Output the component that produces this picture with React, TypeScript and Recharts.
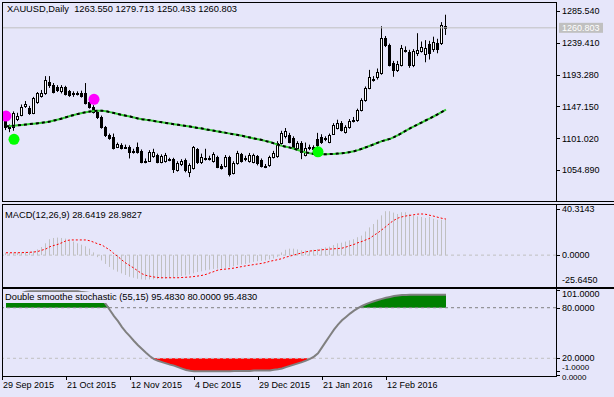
import React from 'react';
import {
  ComposedChart,
  Bar,
  Line,
  Area,
  Scatter,
  XAxis,
  YAxis,
  ReferenceLine,
} from 'recharts';

const BG = '#E6E6FA';
const FONT = '"Liberation Sans", Arial, sans-serif';

// daily candles, one per bar (bar 0 = 30 Sep 2015)
const openP = [
  1127.5, 1118, 1117, 1129, 1135, 1148, 1145, 1138, 1153, 1162,
  1166, 1182, 1178, 1175, 1169, 1175, 1169, 1167, 1165, 1167,
  1166, 1153, 1146, 1139, 1132, 1117, 1106, 1103, 1089, 1092,
  1089, 1088, 1083, 1088, 1083, 1069, 1069, 1075, 1077, 1067,
  1068, 1071, 1071, 1055, 1064, 1070, 1052, 1058, 1085, 1067,
  1073, 1072, 1068, 1074, 1061, 1061, 1074, 1051, 1065, 1078,
  1073, 1068, 1067, 1075, 1070, 1061, 1062, 1074, 1075, 1094,
  1104, 1106, 1101, 1087, 1094, 1077, 1087, 1088, 1100, 1103,
  1101, 1096, 1108, 1116, 1123, 1110, 1117, 1126, 1127, 1142,
  1156, 1174, 1186, 1190, 1195, 1246, 1236, 1210, 1200, 1207,
  1229, 1226, 1207, 1224, 1227, 1223, 1238, 1230, 1239, 1239, 1263.55,
];
const highP = [
  1130.4, 1121, 1140, 1138, 1150, 1155, 1148, 1161, 1168, 1171,
  1191, 1191, 1181, 1178, 1178, 1177, 1171, 1169, 1169, 1170,
  1181, 1155, 1149, 1141, 1134, 1119, 1108, 1108, 1095, 1094,
  1092, 1091, 1086, 1095, 1085, 1072, 1084, 1086, 1079, 1078,
  1080, 1073, 1073, 1068, 1071, 1072, 1065, 1090, 1087, 1079,
  1086, 1076, 1081, 1076, 1064, 1077, 1076, 1068, 1083, 1080,
  1076, 1080, 1079, 1077, 1072, 1064, 1076, 1083, 1097, 1112,
  1116, 1109, 1104, 1097, 1097, 1095, 1092, 1091, 1109, 1107,
  1104, 1108, 1123, 1128, 1126, 1120, 1129, 1132, 1144, 1159,
  1176, 1200, 1191, 1202, 1263, 1249, 1238, 1213, 1213, 1236,
  1234, 1229, 1230, 1253, 1241, 1243, 1242, 1248, 1245, 1269, 1279.713,
];
const lowP = [
  1113, 1110, 1112, 1126, 1133, 1145, 1135, 1136, 1151, 1160,
  1164, 1174, 1166, 1168, 1166, 1163, 1161, 1161, 1163, 1160,
  1150, 1144, 1137, 1129, 1115, 1103, 1099, 1085, 1087, 1085,
  1086, 1072, 1079, 1079, 1065, 1065, 1067, 1073, 1065, 1065,
  1066, 1068, 1051, 1053, 1061, 1052, 1045, 1056, 1064, 1064,
  1069, 1069, 1066, 1058, 1056, 1059, 1046, 1049, 1063, 1066,
  1068, 1066, 1065, 1062, 1059, 1058, 1060, 1072, 1073, 1092,
  1101, 1094, 1086, 1085, 1071, 1075, 1084, 1083, 1088, 1093,
  1097, 1094, 1106, 1114, 1111, 1108, 1115, 1124, 1125, 1140,
  1154, 1172, 1183, 1186, 1193, 1233, 1205, 1190, 1197, 1205,
  1225, 1203, 1204, 1220, 1225, 1211, 1215, 1226, 1224, 1236, 1250.433,
];
const closeP = [
  1117.4, 1116, 1138, 1133, 1146, 1150, 1138, 1159, 1166, 1166,
  1185, 1178, 1168, 1171, 1175, 1165, 1163, 1166, 1167, 1162,
  1152, 1146, 1139, 1132, 1117, 1106, 1101, 1087, 1093, 1087,
  1088, 1081, 1081, 1081, 1067, 1068, 1081, 1082, 1067, 1075,
  1077, 1070, 1057, 1065, 1068, 1055, 1062, 1088, 1067, 1074,
  1072, 1073, 1078, 1060, 1058, 1074, 1049, 1065, 1080, 1068,
  1071, 1077, 1077, 1065, 1061, 1060, 1074, 1080, 1094, 1109,
  1111, 1096, 1088, 1094, 1081, 1087, 1089, 1086, 1091, 1096,
  1100, 1106, 1120, 1123, 1113, 1117, 1126, 1128, 1142, 1156,
  1174, 1190, 1187, 1197, 1246, 1236, 1207, 1200, 1209, 1232,
  1228, 1207, 1227, 1229, 1233, 1232, 1224, 1240, 1230, 1265, 1260.803,
];
const maLine = [
  1118.4, 1118.8, 1119.4, 1120.0, 1120.5, 1121.1, 1121.7, 1122.3, 1123.0, 1123.7,
  1124.4, 1125.3, 1126.8, 1128.2, 1129.8, 1131.5, 1133.3, 1134.9, 1136.4, 1137.7,
  1138.9, 1139.8, 1140.5, 1140.9, 1141.1, 1140.2, 1139.0, 1137.6, 1136.2, 1134.9,
  1133.7, 1132.5, 1131.2, 1129.9, 1128.8, 1127.9, 1127.2, 1126.2, 1125.2, 1124.2,
  1123.3, 1122.4, 1121.5, 1120.7, 1119.8, 1118.9, 1118.1, 1117.1, 1116.1, 1115.3,
  1114.0, 1113.0, 1112.0, 1111.0, 1110.0, 1109.0, 1107.9, 1106.9, 1105.8, 1104.8,
  1103.5, 1102.2, 1101.0, 1099.9, 1098.6, 1097.1, 1095.7, 1093.8, 1091.9, 1090.2,
  1088.9, 1087.7, 1086.0, 1084.2, 1082.2, 1080.6, 1079.4, 1078.6, 1078.2, 1078.1,
  1078.1, 1078.3, 1078.6, 1079.0, 1079.6, 1080.3, 1081.2, 1082.5, 1084.1, 1086.1,
  1088.2, 1090.3, 1092.5, 1094.8, 1097.1, 1098.7, 1100.3, 1102.9, 1105.8, 1109.1,
  1112.4, 1115.6, 1118.5, 1121.4, 1124.3, 1127.2, 1129.9, 1133.0, 1136.2, 1139.3, 1142.5,
];
const macdMain = [
  1.9, 1.9, 2.2, 2.2, 2.4, 2.7, 2.7, 3.3, 4.6, 6.5,
  9.5, 12.8, 13.8, 14.1, 13.8, 13.3, 11.9, 10.9, 9.5, 8.4,
  7.1, 5.2, 2.2, -1.6, -4.3, -7.1, -9.5, -11.7, -13.3, -14.7,
  -16.0, -17.4, -18.2, -19.0, -19.5, -19.8, -19.5, -19.5, -19.3, -19.0,
  -19.0, -18.5, -17.9, -17.4, -16.8, -16.3, -15.7, -14.7, -13.6, -13.0,
  -12.2, -11.7, -11.1, -10.9, -10.9, -10.3, -9.8, -9.0, -8.1, -7.6,
  -7.1, -6.2, -5.4, -4.9, -4.6, -4.3, -3.5, -2.7, -1.4, 2.2,
  4.3, 5.2, 5.2, 4.6, 3.8, 3.8, 3.8, 4.3, 4.9, 5.4,
  6.2, 6.8, 8.1, 9.5, 10.0, 10.9, 11.9, 12.8, 14.4, 15.7,
  19.0, 22.3, 25.0, 28.5, 32.0, 35.3, 35.3, 34.2, 33.1, 34.5,
  34.5, 33.1, 31.8, 31.2, 30.7, 29.9, 30.7, 29.3, 28.5, 28.5, 28.6419,
];
const macdSignal = [
  1.9, 1.9, 1.9, 1.9, 2.0, 2.1, 2.3, 2.5, 3.0, 4.0,
  5.0, 6.8, 7.8, 8.7, 10.0, 11.5, 12.2, 12.2, 12.2, 12.2,
  12.2, 11.5, 10.3, 9.0, 8.1, 6.0, 4.0, 1.2, -1.2, -4.0,
  -6.5, -8.5, -10.5, -12.8, -15.0, -16.3, -17.0, -17.6, -18.0, -18.2,
  -18.2, -18.2, -18.2, -18.2, -18.0, -17.8, -17.6, -17.2, -16.8, -16.3,
  -15.5, -14.3, -13.2, -12.0, -11.5, -11.2, -10.9, -10.4, -9.8, -9.2,
  -8.6, -8.1, -7.6, -7.1, -6.6, -5.9, -4.9, -4.3, -3.6, -2.8,
  -1.6, -0.8, 0.1, 1.0, 1.8, 2.6, 3.3, 3.6, 3.9, 4.3,
  4.6, 4.9, 5.1, 5.3, 5.6, 6.5, 7.6, 8.6, 10.0, 11.0,
  12.3, 13.6, 16.0, 18.0, 20.5, 23.0, 25.8, 28.0, 29.8, 30.8,
  31.5, 32.0, 32.5, 33.0, 33.1, 32.8, 32.0, 31.3, 30.4, 29.6, 28.9827,
];
const stochMain = [
  95, 95.5, 96, 96.5, 97.5, 99, 99.6, 99.6, 99.6, 99.6,
  99.6, 99.6, 99.6, 99.6, 99.6, 99.6, 99.6, 99.6, 99.6, 98.5,
  98, 97.5, 96.5, 94, 90, 84, 77, 70, 64, 57,
  51, 46, 40.5, 35.5, 31, 26.5, 22.5, 19, 17, 15.5,
  14, 12.5, 11.3, 9.5, 7.8, 6.2, 5.2, 4.6, 4.5, 4.5,
  4.5, 4.5, 4.5, 4.5, 4.5, 4.5, 4.5, 5.0, 5.0, 5.0,
  5.0, 5.0, 5.6, 5.6, 5.6, 5.6, 5.6, 6.3, 7.0, 8.0,
  9.5, 11.0, 12.5, 14.0, 15.5, 17.2, 19.2, 22, 26, 33,
  40, 47, 54, 60, 65, 69, 73, 76.5, 79.5, 82,
  84.2, 86, 87.7, 89.2, 90.5, 91.8, 92.8, 93.8, 94.5, 95,
  95.2, 95.3, 95.4, 95.4, 95.4, 95.4, 95.4, 95.4, 95.5, 95.5, 95.483,
];

// signal dots
const pinkDotBars = [0, 22];
const pinkDotPrices = [1133.3, 1157.4];
const greenDotBars = [2, 78];
const greenDotPrices = [1099.6, 1081.6];

const priceTicks = [1054.89, 1101.02, 1147.15, 1193.28, 1239.41, 1285.54];
const macdTicks = [40.3143, 0, -25.645];
const stochTicks = [101, 80, 20, 0, -1];
const dateTicks = [-1, 15, 31, 47, 63, 79, 95];
const dateLabels = [
  '29 Sep 2015',
  '21 Oct 2015',
  '12 Nov 2015',
  '4 Dec 2015',
  '29 Dec 2015',
  '21 Jan 2016',
  '12 Feb 2016',
];
const lastPrice = 1260.803;

const rows = openP.map((o, i) => ({
  i,
  open: o,
  high: highP[i],
  low: lowP[i],
  close: closeP[i],
  ma: maLine[i],
  macd: macdMain[i],
  signal: macdSignal[i],
  stoch: stochMain[i],
}));
const pinkDots = pinkDotBars.map((b, k) => ({ i: b, price: pinkDotPrices[k] }));
const greenDots = greenDotBars.map((b, k) => ({ i: b, price: greenDotPrices[k] }));

const X_DOMAIN: [number, number] = [-1, 137.5];

function Candle(props: any) {
  const { x, y, width, height, payload } = props;
  if (!payload || height == null) return null;
  const { open, close, high, low } = payload;
  const c = Math.floor(x + width / 2);
  const ppu = height / (high - low);
  const top = y + (high - Math.max(open, close)) * ppu;
  const bot = y + (high - Math.min(open, close)) * ppu;
  const bull = close >= open;
  return (
    <g>
      <line x1={c + 0.5} x2={c + 0.5} y1={y} y2={y + height} stroke="#000" strokeWidth={1} />
      <rect
        x={c - 0.5}
        y={Math.round(top) + 0.5}
        width={2}
        height={Math.max(Math.round(bot) - Math.round(top), 1)}
        fill={bull ? '#fff' : '#000'}
        stroke="#000"
        strokeWidth={1}
      />
    </g>
  );
}

function HistBar(props: any) {
  const { x, y, width, height } = props;
  if (height == null) return null;
  const c = Math.floor(x + width / 2);
  const top = Math.min(y, y + height);
  return <rect x={c} y={top} width={1} height={Math.abs(height)} fill="#C0C0C0" />;
}

function RightTick(props: any) {
  const { x, y, payload, digits, shift } = props;
  const s = shift ? shift(payload.value) : { tick: 0, text: 0, size: 9 };
  const ty = Math.round(y + s.tick) + 0.5;
  return (
    <g>
      <line x1={x - 6} x2={x - 2} y1={ty} y2={ty} stroke="#000" />
      <text x={x} y={y + s.text} dy={s.size * 0.355} fontSize={s.size} fontFamily={FONT} fill="#000">
        {payload.value.toFixed(digits)}
      </text>
    </g>
  );
}

function DateTick(props: any) {
  const { x, y, payload } = props;
  const k = dateTicks.indexOf(payload.value);
  return (
    <g>
      <line x1={x + 0.5} x2={x + 0.5} y1={y} y2={y + 4} stroke="#000" />
      <text x={x + 1} y={y + 12} fontSize={9} fontFamily={FONT} fill="#000">
        {dateLabels[k]}
      </text>
    </g>
  );
}

function PriceTag(props: any) {
  const { viewBox } = props;
  if (!viewBox) return null;
  const left = viewBox.x + viewBox.width + 3;
  const y = viewBox.y;
  return (
    <g>
      <rect x={left} y={y - 5} width={44} height={10} fill="#C0C0C0" />
      <text x={left + 3} y={y + 3.2} fontSize={9} fontFamily={FONT} fill="#fff">
        {lastPrice.toFixed(3)}
      </text>
    </g>
  );
}

const macdShift = (v: number) =>
  v > 40
    ? { tick: 4, text: 4, size: 9 }
    : v < -25
    ? { tick: 0, text: -7, size: 9 }
    : { tick: 0, text: 0, size: 9 };
const stochShift = (v: number) =>
  v > 100
    ? { tick: 0, text: 4, size: 9 }
    : v < 0
    ? { tick: -5, text: -8.5, size: 8 }
    : v < 1
    ? { tick: 0, text: 1.8, size: 8 }
    : { tick: 0, text: 0, size: 9 };

const hLine = (top: number, left: number, width: number): React.CSSProperties => ({
  position: 'absolute', top, left, width, height: 1, background: '#000',
});
const vLine = (left: number, top: number, height: number): React.CSSProperties => ({
  position: 'absolute', top, left, width: 1, height, background: '#000',
});
const labelStyle: React.CSSProperties = {
  position: 'absolute',
  fontFamily: FONT,
  fontSize: '9.3px',
  lineHeight: '10px',
  color: '#000',
  whiteSpace: 'pre',
};

export default function App() {
  return (
    <div style={{ position: 'absolute', left: 0, top: 0, width: 614, height: 397, background: BG, overflow: 'hidden' }}>
      {/* price window */}
      <div style={{ position: 'absolute', left: 0, top: 0 }}>
        <ComposedChart width={614} height={203} data={rows} margin={{ top: 2, right: 0, bottom: 2, left: 2 }}>
          <XAxis dataKey="i" type="number" domain={X_DOMAIN} allowDataOverflow hide />
          <YAxis
            orientation="right"
            width={58}
            domain={[1010.53, 1298.11]}
            allowDataOverflow
            ticks={priceTicks}
            interval={0}
            axisLine={false}
            tickLine={false}
            tickSize={4}
            tickMargin={2}
            tick={(p: any) => <RightTick {...p} digits={3} />}
          />
          <ReferenceLine y={lastPrice} stroke="#C0C0C0" label={(p: any) => <PriceTag {...p} />} />
          <Bar
            dataKey={(d: any) => [d.low, d.high]}
            barSize={3}
            shape={(p: any) => <Candle {...p} />}
            isAnimationActive={false}
          />
          <Line dataKey="ma" stroke="#32CD32" strokeWidth={2} dot={false} isAnimationActive={false} />
          <Line dataKey="ma" stroke="#000" strokeWidth={2} strokeDasharray="3 3" dot={false} isAnimationActive={false} />
          <Scatter
            data={pinkDots}
            dataKey="price"
            isAnimationActive={false}
            shape={(p: any) => <circle cx={p.cx} cy={p.cy} r={5.5} fill="#FF00FF" />}
          />
          <Scatter
            data={greenDots}
            dataKey="price"
            isAnimationActive={false}
            shape={(p: any) => <circle cx={p.cx} cy={p.cy} r={5.5} fill="#00FF00" />}
          />
        </ComposedChart>
      </div>

      {/* MACD window */}
      <div style={{ position: 'absolute', left: 0, top: 204 }}>
        <ComposedChart width={614} height={84} data={rows} margin={{ top: 1, right: 0, bottom: 1, left: 2 }}>
          <XAxis dataKey="i" type="number" domain={X_DOMAIN} allowDataOverflow hide />
          <YAxis
            orientation="right"
            width={58}
            domain={[-25.645, 40.3143]}
            allowDataOverflow
            ticks={macdTicks}
            interval={0}
            axisLine={false}
            tickLine={false}
            tickSize={4}
            tickMargin={2}
            tick={(p: any) => <RightTick {...p} digits={4} shift={macdShift} />}
          />
          <ReferenceLine y={0} stroke="#C0C0C0" strokeDasharray="3 3" />
          <Bar dataKey="macd" barSize={1} shape={(p: any) => <HistBar {...p} />} isAnimationActive={false} />
          <Line dataKey="signal" stroke="#FF0000" strokeWidth={1} strokeDasharray="2 2" dot={false} isAnimationActive={false} />
        </ComposedChart>
      </div>

      {/* stochastic window */}
      <div style={{ position: 'absolute', left: 0, top: 289 }}>
        <ComposedChart width={614} height={108} data={rows} margin={{ top: 1, right: 0, bottom: 0, left: 2 }}>
          <XAxis
            dataKey="i"
            type="number"
            domain={X_DOMAIN}
            allowDataOverflow
            ticks={dateTicks}
            interval={0}
            height={21}
            axisLine={false}
            tickLine={false}
            tickSize={0}
            tickMargin={0}
            tick={(p: any) => <DateTick {...p} />}
          />
          <YAxis
            orientation="right"
            width={58}
            domain={[-1, 101]}
            allowDataOverflow
            ticks={stochTicks}
            interval={0}
            axisLine={false}
            tickLine={false}
            tickSize={4}
            tickMargin={2}
            tick={(p: any) => <RightTick {...p} digits={4} shift={stochShift} />}
          />
          <Area
            dataKey={(d: any) => [80, Math.max(80, d.stoch)]}
            type="linear"
            stroke="none"
            fill="#008000"
            fillOpacity={1}
            isAnimationActive={false}
          />
          <Area
            dataKey={(d: any) => [Math.min(20, d.stoch), 20]}
            type="linear"
            stroke="none"
            fill="#FF0000"
            fillOpacity={1}
            isAnimationActive={false}
          />
          <ReferenceLine y={80} stroke="#808080" strokeDasharray="3 3" />
          <ReferenceLine y={20} stroke="#C0C0C0" strokeDasharray="3 3" />
          <Line dataKey="stoch" stroke="#808080" strokeWidth={2} dot={false} isAnimationActive={false} />
        </ComposedChart>
      </div>

      {/* window frames */}
      <div style={{ position: 'absolute', left: 2, top: 2, width: 555, height: 200, border: '1px solid #000', boxSizing: 'border-box' }} />
      <div style={hLine(201, 2, 612)} />
      <div style={hLine(204, 2, 612)} />
      <div style={vLine(2, 204, 84)} />
      <div style={vLine(556, 204, 84)} />
      <div style={hLine(287, 2, 612)} />
      <div style={hLine(288, 2, 612)} />
      <div style={vLine(2, 288, 89)} />
      <div style={vLine(556, 288, 89)} />
      <div style={hLine(376, 2, 555)} />

      {/* window captions */}
      <div style={{ ...labelStyle, left: 7, top: 4 }}>XAUUSD,Daily  1263.550 1279.713 1250.433 1260.803</div>
      <div style={{ ...labelStyle, left: 5, top: 210 }}>MACD(12,26,9) 28.6419 28.9827</div>
      <div style={{ ...labelStyle, left: 5, top: 291.5, height: 11, lineHeight: '11px', background: BG, paddingRight: 1 }}>
        Double smoothe stochastic (55,15) 95.4830 80.0000 95.4830
      </div>
    </div>
  );
}
